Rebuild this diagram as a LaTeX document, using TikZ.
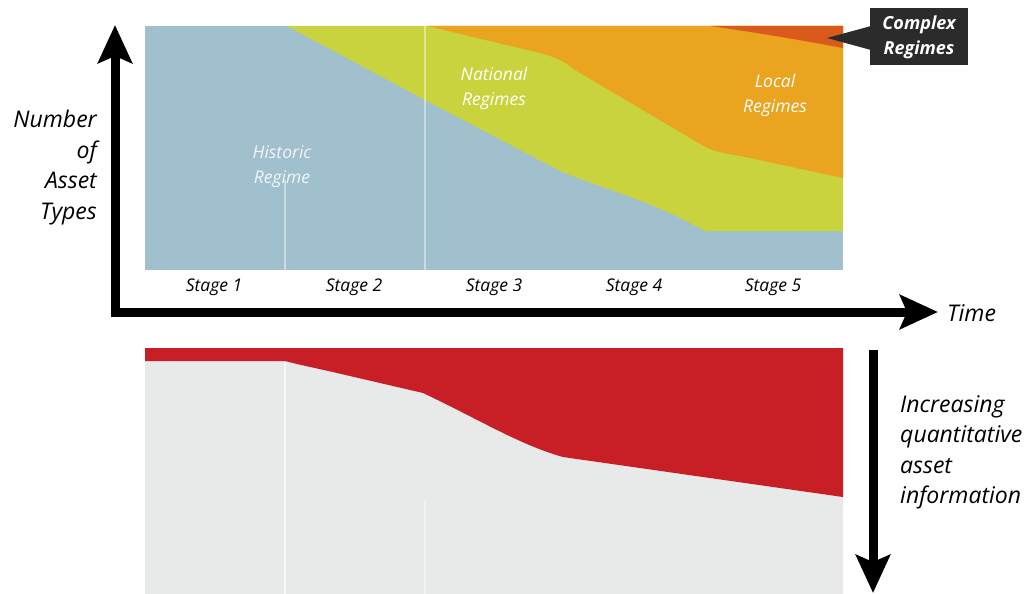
\documentclass[tikz,border=0pt]{standalone}
\usepackage{fontspec}
\setmainfont{Open Sans}
\usetikzlibrary{arrows.meta}
\definecolor{histblue}{HTML}{A0C0CD}
\definecolor{natyellow}{HTML}{C9D33E}
\definecolor{localorange}{HTML}{EAA41F}
\definecolor{complexred}{HTML}{DA5A1C}
\definecolor{infored}{HTML}{C81E25}
\definecolor{infogray}{HTML}{E8E9E9}
\definecolor{calloutgray}{HTML}{2B2B2B}
\tikzset{
  bigtip/.style={-{Stealth[length=38pt,width=34pt,inset=7pt]}},
  axisline/.style={line width=9pt, black, line join=miter},
  regimelabel/.style={text=white, font=\fontsize{17.5}{25}\selectfont\itshape, align=center, inner sep=0pt},
  stagelabel/.style={font=\fontsize{17.5}{20}\selectfont\itshape, inner sep=0pt},
  axislabel/.style={font=\fontsize{23}{30.5}\selectfont\itshape, inner sep=0pt},
  seam/.style={white, opacity=0.45, line width=1.2pt}
}
\begin{document}
\begin{tikzpicture}[x=1pt,y=-1pt]
\path[use as bounding box, fill=white] (0,0) rectangle (1028,594);

% ---- upper chart: stacked regime areas ----
\fill[histblue] (145,26) rectangle (843,270);
\fill[natyellow] (287,26) -- (425,100) -- (560,171)
  .. controls (600,188) and (650,200) .. (705,231) -- (843,231) -- (843,26) -- cycle;
\fill[localorange] (427,26) -- (540,53) .. controls (558,58) and (565,62) .. (575,70)
  -- (707,148) .. controls (720,153) and (730,154) .. (745,157) -- (843,178) -- (843,26) -- cycle;
\fill[complexred] (710,26) .. controls (760,33) and (800,40) .. (843,48) -- (843,26) -- cycle;
\draw[seam] (425,26) -- (425,270);
\draw[seam] (285,180) -- (285,270);

\node[regimelabel, opacity=0.85] (historic) at (282,167) {Historic\\Regime};
\node[regimelabel] (national) at (494,88) {National\\Regimes};
\node[regimelabel] (local) at (775,95) {Local\\Regimes};

% callout for the thin top band
\fill[calloutgray] (870,8) rectangle (968,65);
\fill[calloutgray] (871,26) -- (827,38) -- (871,50) -- cycle;
\node[regimelabel, font=\fontsize{18}{25}\selectfont\itshape\bfseries] (complex) at (919,37) {Complex\\Regimes};

% stage captions
\foreach \i/\x in {1/214,2/354,3/494,4/634,5/773}
  \node[stagelabel] (stage\i) at (\x,287) {Stage \i};

% ---- axes ----
\coordinate (ytip) at (115,25);
\coordinate (origin) at (115,312);
\coordinate (xtip) at (938,312);
\draw[axisline, {Stealth[length=38pt,width=34pt,inset=7pt]}-{Stealth[length=38pt,width=34pt,inset=7pt]}]
  (ytip) -- (origin) -- (xtip);
\node[axislabel, anchor=north east, align=right] (ylabel) at (97,110) {Number\\of\\Asset\\Types};
\node[axislabel, anchor=west] (time) at (947,313) {Time};

% ---- lower chart: quantitative information ----
\fill[infogray] (145,348) rectangle (843,594);
\fill[infored] (145,348) -- (145,361) -- (285,361)
  .. controls (300,365) and (320,369) .. (337,373) -- (423,393)
  .. controls (480,420) and (520,445) .. (563,457) -- (843,497) -- (843,348) -- cycle;
\draw[seam, opacity=0.7] (285,362) -- (285,594);
\draw[seam] (425,500) -- (425,594);

\coordinate (qtop) at (873,350);
\coordinate (qtip) at (873,593);
\draw[line width=9pt, bigtip] (qtop) -- (qtip);
\node[axislabel, anchor=north west, align=left] (qlabel) at (900,395) {Increasing\\quantitative\\asset\\information};
\end{tikzpicture}
\end{document}
